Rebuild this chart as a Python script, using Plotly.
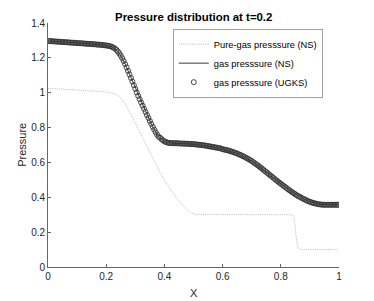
import numpy as np
import plotly.graph_objects as go

# sample positions (cell grid, step 0.005)
x_pos = [round(i * 0.005, 3) for i in range(201)]

# gas pressure (UGKS markers and NS line)
gas_pressure = [
    1.297, 1.296, 1.296, 1.295, 1.295, 1.294, 1.293, 1.293, 1.292, 1.292,
    1.291, 1.290, 1.290, 1.289, 1.289, 1.288, 1.287, 1.287, 1.286, 1.286,
    1.285, 1.284, 1.284, 1.283, 1.283, 1.282, 1.281, 1.281, 1.280, 1.280,
    1.279, 1.278, 1.278, 1.277, 1.276, 1.276, 1.275, 1.274, 1.273, 1.272,
    1.271, 1.270, 1.268, 1.266, 1.263, 1.259, 1.253, 1.246, 1.237, 1.226,
    1.213, 1.198, 1.182, 1.164, 1.145, 1.125, 1.105, 1.085, 1.064, 1.043,
    1.022, 1.002, 0.982, 0.963, 0.944, 0.926, 0.908, 0.890, 0.872, 0.855,
    0.838, 0.821, 0.804, 0.788, 0.773, 0.759, 0.747, 0.742, 0.734, 0.727,
    0.721, 0.717, 0.714, 0.712, 0.711, 0.711, 0.710, 0.710, 0.710, 0.710,
    0.709, 0.709, 0.708, 0.708, 0.708, 0.707, 0.707, 0.706, 0.706, 0.705,
    0.705, 0.704, 0.703, 0.702, 0.701, 0.700, 0.699, 0.698, 0.697, 0.695,
    0.694, 0.692, 0.691, 0.689, 0.688, 0.686, 0.685, 0.683, 0.682, 0.679,
    0.676, 0.674, 0.672, 0.670, 0.668, 0.665, 0.663, 0.660, 0.657, 0.654,
    0.651, 0.647, 0.644, 0.640, 0.636, 0.632, 0.627, 0.623, 0.618, 0.613,
    0.608, 0.602, 0.596, 0.590, 0.584, 0.578, 0.571, 0.565, 0.558, 0.551,
    0.545, 0.538, 0.531, 0.524, 0.518, 0.511, 0.504, 0.497, 0.491, 0.484,
    0.478, 0.471, 0.465, 0.459, 0.453, 0.446, 0.440, 0.434, 0.428, 0.423,
    0.417, 0.412, 0.406, 0.403, 0.398, 0.393, 0.389, 0.385, 0.381, 0.377,
    0.374, 0.371, 0.368, 0.366, 0.364, 0.362, 0.360, 0.359, 0.358, 0.357,
    0.357, 0.357, 0.357, 0.357, 0.357, 0.357, 0.357, 0.357, 0.357, 0.357,
    0.357,
]

# pure-gas pressure (NS)
pure_gas_pressure = [
    1.025, 1.025, 1.024, 1.024, 1.023, 1.023, 1.022, 1.022, 1.021, 1.021,
    1.020, 1.020, 1.019, 1.019, 1.018, 1.018, 1.017, 1.017, 1.016, 1.016,
    1.015, 1.015, 1.014, 1.014, 1.013, 1.013, 1.012, 1.012, 1.011, 1.011,
    1.010, 1.010, 1.009, 1.009, 1.008, 1.008, 1.007, 1.007, 1.006, 1.005,
    1.004, 1.003, 1.002, 1.001, 0.999, 0.997, 0.994, 0.990, 0.985, 0.978,
    0.970, 0.960, 0.948, 0.935, 0.921, 0.906, 0.890, 0.874, 0.858, 0.841,
    0.824, 0.807, 0.790, 0.773, 0.756, 0.739, 0.722, 0.705, 0.688, 0.671,
    0.654, 0.637, 0.621, 0.605, 0.589, 0.573, 0.558, 0.543, 0.528, 0.513,
    0.499, 0.485, 0.471, 0.459, 0.447, 0.435, 0.423, 0.410, 0.398, 0.388,
    0.378, 0.368, 0.358, 0.349, 0.340, 0.332, 0.324, 0.317, 0.312, 0.307,
    0.304, 0.302, 0.301, 0.301, 0.301, 0.301, 0.301, 0.301, 0.301, 0.300,
    0.300, 0.300, 0.300, 0.300, 0.300, 0.300, 0.300, 0.300, 0.300, 0.300,
    0.300, 0.300, 0.300, 0.300, 0.300, 0.300, 0.300, 0.300, 0.300, 0.300,
    0.300, 0.299, 0.299, 0.299, 0.299, 0.299, 0.299, 0.299, 0.299, 0.300,
    0.300, 0.300, 0.300, 0.300, 0.300, 0.300, 0.300, 0.300, 0.300, 0.300,
    0.300, 0.300, 0.300, 0.300, 0.300, 0.300, 0.300, 0.300, 0.300, 0.300,
    0.300, 0.300, 0.300, 0.300, 0.300, 0.300, 0.300, 0.300, 0.300, 0.290,
    0.220, 0.140, 0.108, 0.102, 0.100, 0.100, 0.100, 0.100, 0.100, 0.100,
    0.100, 0.100, 0.100, 0.100, 0.100, 0.100, 0.100, 0.100, 0.100, 0.100,
    0.100, 0.099, 0.099, 0.099, 0.099, 0.099, 0.099, 0.099, 0.099, 0.099,
    0.099,
]

assert len(gas_pressure) == 201 and len(pure_gas_pressure) == 201

x_ticks = [0, 0.2, 0.4, 0.6, 0.8, 1]
x_tick_labels = ["0", "0.2", "0.4", "0.6", "0.8", "1"]
y_ticks = [0, 0.2, 0.4, 0.6, 0.8, 1, 1.2, 1.4]
y_tick_labels = ["0", "0.2", "0.4", "0.6", "0.8", "1", "1.2", "1.4"]

FONT = "Liberation Sans, Arial, Helvetica, sans-serif"

fig = go.Figure()
fig.add_trace(go.Scatter(
    x=x_pos, y=pure_gas_pressure, mode="lines",
    name="Pure-gas presssure (NS)",
    line=dict(color="#a8a8a8", width=0.8, dash="1px,1.2px"),
))
fig.add_trace(go.Scatter(
    x=x_pos, y=gas_pressure, mode="lines",
    name="gas presssure (NS)",
    line=dict(color="#3a3a3a", width=1),
))
fig.add_trace(go.Scatter(
    x=x_pos, y=gas_pressure, mode="markers",
    name="gas presssure (UGKS)",
    marker=dict(symbol="circle-open", size=5, color="#333333",
                line=dict(width=0.9, color="#333333")),
))

axis_common = dict(
    showgrid=False, zeroline=False, showline=True, automargin=False,
    linecolor="#666666", linewidth=0.8,
    ticks="inside", ticklen=3, tickwidth=0.8, tickcolor="#666666",
    tickfont=dict(family=FONT, size=10, color="#262626"),
    mirror=False,
)

fig.update_layout(
    width=374, height=301,
    margin=dict(l=48, r=35, t=23, b=34, autoexpand=False),
    paper_bgcolor="white", plot_bgcolor="white",
    title=dict(text="<b>Pressure distribution at t=0.2</b>",
               font=dict(family=FONT, size=11.4, color="#000000"),
               x=0.518, xanchor="center", y=0.945, yanchor="middle",
               yref="container", automargin=False),
    xaxis=dict(range=[0, 1], tickvals=x_ticks, ticktext=x_tick_labels,
               **axis_common),
    yaxis=dict(range=[0, 1.4], tickvals=y_ticks, ticktext=y_tick_labels,
               **axis_common),
    legend=dict(x=0.945, xanchor="right", y=0.976, yanchor="top",
                bgcolor="white", bordercolor="#888888", borderwidth=0.8,
                font=dict(family=FONT, size=9.3, color="#000000"),
                itemwidth=30, tracegroupgap=0),
    showlegend=True,
    annotations=[
        dict(text="X", xref="paper", yref="paper", x=0.5, y=-0.108,
             xanchor="center", yanchor="middle", showarrow=False,
             font=dict(family=FONT, size=11, color="#262626")),
        dict(text="Pressure", xref="paper", yref="paper", x=-0.09, y=0.5,
             xanchor="center", yanchor="middle", showarrow=False, textangle=-90,
             font=dict(family=FONT, size=11, color="#262626")),
    ],
)

fig.write_html("out.html", config={"displayModeBar": False},
               post_script="document.body.style.margin='0';")
